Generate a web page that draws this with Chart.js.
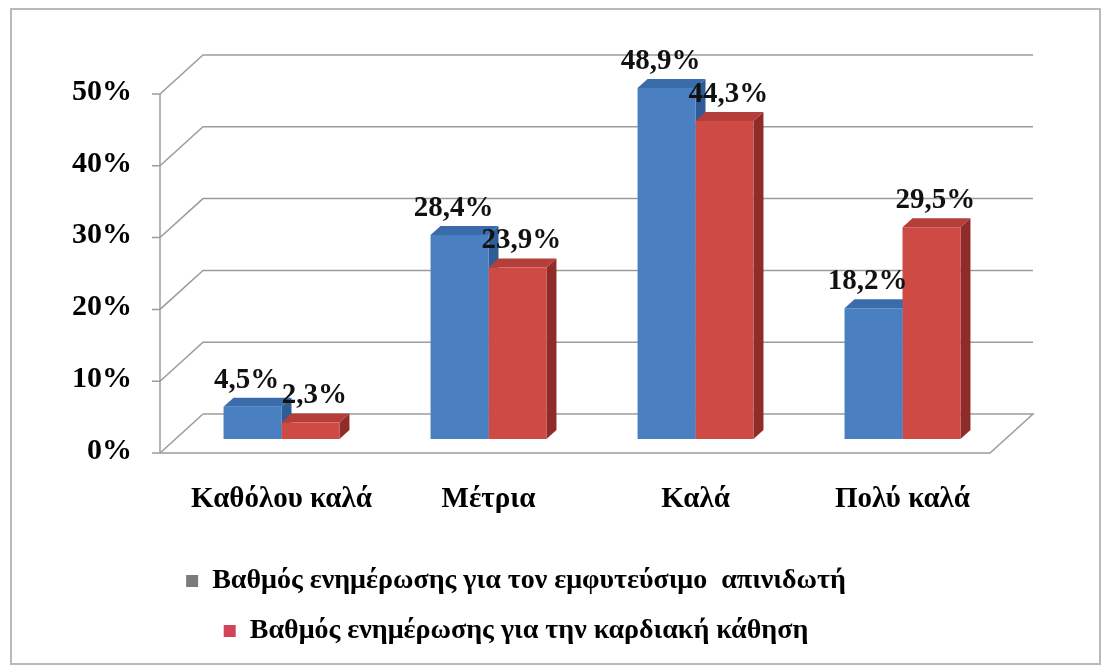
<!DOCTYPE html>
<html>
<head>
<meta charset="utf-8">
<script src="https://cdn.jsdelivr.net/npm/chart.js@4.4.0/dist/chart.umd.min.js"></script>
<style>
	html, body { margin: 0; padding: 0; background: #fff; }
	#wrap { width: 1105px; height: 669px; position: relative; }
</style>
</head>
<body>
<div id="wrap"><canvas id="bar-chartcanvas" width="1105" height="669"></canvas></div>
<script>
	// categories and the two series (values in %)
	var categories = ["Καθόλου καλά", "Μέτρια", "Καλά", "Πολύ καλά"];
	var icdValues = [4.5, 28.4, 48.9, 18.2];
	var cardiacValues = [2.3, 23.9, 44.3, 29.5];
	var seriesNames = [
		"Βαθμός ενημέρωσης για τον εμφυτεύσιμο  απινιδωτή",
		"Βαθμός ενημέρωσης για την καρδιακή κάθηση"
	];
	var yTicks = [0, 10, 20, 30, 40, 50];

	var FONT = "'Liberation Serif', 'Times New Roman', serif";
	var DEPTH_X = 10, DEPTH_Y = 9;       // depth of each bar
	var FRONT_DY = 14, BACK_DY = -25;    // floor / wall planes vs. bar plane
	var WALL_DX = 43;

	/**
	 * frame + 3d walls, floor and gridlines (drawn before the bars)
	 */
	var wallsPlugin = {
		id : "walls",
		beforeDraw : function(chart) {
			var c = chart.ctx;
			c.save();
			c.fillStyle = "#fff";
			c.fillRect(0, 0, chart.width, chart.height);
			c.strokeStyle = "#b9b9b9";
			c.lineWidth = 2;
			c.strokeRect(11, 9, chart.width - 16, chart.height - 14);
			c.restore();
		},
		beforeDatasetsDraw : function(chart) {
			var c = chart.ctx;
			var y = chart.scales.y;
			var area = chart.chartArea;
			var fx = area.left - 18;
			var bx = fx + WALL_DX;
			var right = area.right + 27;
			c.save();
			c.strokeStyle = "#9c9c9c";
			c.lineWidth = 1.5;
			yTicks.forEach(function(v) {
				var p = y.getPixelForValue(v);
				c.beginPath();
				c.moveTo(fx - 8, p + FRONT_DY);
				c.lineTo(fx, p + FRONT_DY);
				c.lineTo(bx, p + BACK_DY);
				if (v > 0) c.lineTo(right, p + BACK_DY);
				c.stroke();
			});
			// floor
			var p0 = y.getPixelForValue(0);
			c.beginPath();
			c.moveTo(bx, p0 + BACK_DY);
			c.lineTo(right, p0 + BACK_DY);
			c.lineTo(right - WALL_DX, p0 + FRONT_DY);
			c.lineTo(fx, p0 + FRONT_DY);
			c.stroke();
			// front axis
			c.beginPath();
			c.moveTo(fx, y.getPixelForValue(50) + FRONT_DY);
			c.lineTo(fx, p0 + FRONT_DY);
			c.stroke();

			// side and top faces of the bars
			var sides = ["#2d5c97", "#8f2c29"];
			var tops = ["#3a6cab", "#b53e3a"];
			chart.data.datasets.forEach(function(ds, i) {
				chart.getDatasetMeta(i).data.forEach(function(bar) {
					var l = bar.x - bar.width / 2, r = bar.x + bar.width / 2;
					c.fillStyle = sides[i];
					c.beginPath();
					c.moveTo(r, bar.y);
					c.lineTo(r + DEPTH_X, bar.y - DEPTH_Y);
					c.lineTo(r + DEPTH_X, bar.base - DEPTH_Y);
					c.lineTo(r, bar.base);
					c.closePath();
					c.fill();
					c.fillStyle = tops[i];
					c.beginPath();
					c.moveTo(l, bar.y);
					c.lineTo(l + DEPTH_X, bar.y - DEPTH_Y);
					c.lineTo(r + DEPTH_X, bar.y - DEPTH_Y);
					c.lineTo(r, bar.y);
					c.closePath();
					c.fill();
				});
			});
			c.restore();
		},
		afterDatasetsDraw : function(chart) {
			var c = chart.ctx;
			c.save();
			c.fillStyle = "#111";
			c.font = "bold 29px " + FONT;
			c.textAlign = "center";
			c.textBaseline = "bottom";
			chart.data.datasets.forEach(function(ds, i) {
				chart.getDatasetMeta(i).data.forEach(function(bar, j) {
					var txt = ds.data[j].toFixed(1).replace(".", ",") + "%";
					c.fillText(txt, bar.x + (i == 0 ? -6 : 4), bar.y - DEPTH_Y - 3);
				});
			});
			c.restore();
		}
	};

	var ctx = document.getElementById("bar-chartcanvas");

	var data = {
		labels : categories,
		datasets : [
			{
				label : seriesNames[0],
				data : icdValues,
				backgroundColor : "#4a7fc2",
				borderWidth : 0
			},
			{
				label : seriesNames[1],
				data : cardiacValues,
				backgroundColor : "#cd4a45",
				borderWidth : 0
			}
		]
	};

	var options = {
		responsive : false,
		animation : false,
		layout : {
			padding : { left : 26, right : 99, top : 80, bottom : 14 }
		},
		datasets : {
			bar : { categoryPercentage : 0.56, barPercentage : 1 }
		},
		scales : {
			x : {
				grid : { display : false, drawTicks : false },
				border : { display : false },
				afterFit : function(axis) {
					axis.height = 106;
				},
				ticks : {
					color : "#000",
					padding : 45,
					font : { family : FONT, size : 29, weight : "bold", lineHeight : 1.05 }
				}
			},
			y : {
				min : 0,
				max : 50,
				grid : { display : false, drawTicks : false },
				border : { display : false },
				afterBuildTicks : function(axis) {
					axis.ticks = yTicks.map(function(v) { return { value : v }; });
				},
				ticks : {
					color : "#000",
					padding : 46,
					labelOffset : 12,
					font : { family : FONT, size : 30, weight : "bold" },
					callback : function(v) { return v + "%"; }
				}
			}
		},
		plugins : {
			tooltip : { enabled : false },
			legend : {
				display : true,
				position : "bottom",
				labels : {
					color : "#000",
					boxWidth : 12,
					boxHeight : 12,
					padding : 22,
					font : { family : FONT, size : 28, weight : "bold" },
					generateLabels : function(chart) {
						var items = Chart.defaults.plugins.legend.labels.generateLabels(chart);
						// the first legend key is grey in the original
						items[0].fillStyle = "#7b7b7b";
						items[1].fillStyle = "#d0455a";
						return items;
					}
				}
			}
		}
	};

	var chart = new Chart(ctx, {
		type : "bar",
		data : data,
		options : options,
		plugins : [wallsPlugin]
	});
</script>
</body>
</html>
